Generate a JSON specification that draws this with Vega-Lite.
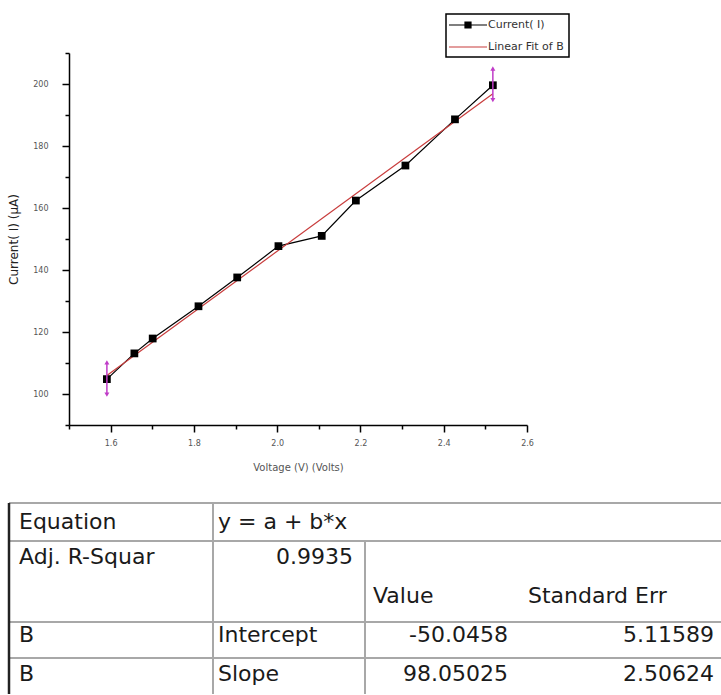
{
  "$schema": "https://vega.github.io/schema/vega-lite/v6.json",
  "background": "white",
  "padding": {"left": 7, "top": 13, "right": 0, "bottom": 0},
  "spacing": 29,
  "config": {"view": {"stroke": null}, "font": "DejaVu Sans"},
  "resolve": {"legend": {"color": "independent"}},
  "datasets": {
    "current": [
      {"V": 1.591, "I": 104.8, "series": "Current( I)"},
      {"V": 1.657, "I": 113.1, "series": "Current( I)"},
      {"V": 1.701, "I": 117.9, "series": "Current( I)"},
      {"V": 1.811, "I": 128.3, "series": "Current( I)"},
      {"V": 1.904, "I": 137.6, "series": "Current( I)"},
      {"V": 2.003, "I": 147.7, "series": "Current( I)"},
      {"V": 2.107, "I": 151.0, "series": "Current( I)"},
      {"V": 2.189, "I": 162.4, "series": "Current( I)"},
      {"V": 2.308, "I": 173.7, "series": "Current( I)"},
      {"V": 2.427, "I": 188.6, "series": "Current( I)"},
      {"V": 2.518, "I": 199.6, "series": "Current( I)"}
    ],
    "fit": [
      {"V": 1.591, "I": 105.95, "series": "Linear Fit of B"},
      {"V": 2.518, "I": 196.85, "series": "Linear Fit of B"}
    ],
    "err": [
      {"V": 1.591, "lo": 99.8, "hi": 110.2},
      {"V": 2.518, "lo": 194.8, "hi": 205.0}
    ],
    "tlines": [
      {"x1": 1, "x2": 5, "y1": 0, "y2": 0},
      {"x1": 1, "x2": 5, "y1": 1, "y2": 1},
      {"x1": 1, "x2": 5, "y1": 3, "y2": 3},
      {"x1": 1, "x2": 5, "y1": 4, "y2": 4},
      {"x1": 2, "x2": 2, "y1": 0, "y2": 5},
      {"x1": 3, "x2": 3, "y1": 1, "y2": 5},
      {"x1": 1, "x2": 1, "y1": 0, "y2": 5}
    ],
    "cells": [
      {"row": 1, "col": 1, "t": "Equation"},
      {"row": 1, "col": 2, "t": "y = a + b*x"},
      {"row": 2, "col": 1, "t": "Adj. R-Squar"},
      {"row": 2, "col": 2, "t": "0.9935"},
      {"row": 3, "col": 3, "t": "Value"},
      {"row": 3, "col": 4, "t": "Standard Err"},
      {"row": 4, "col": 1, "t": "B"},
      {"row": 4, "col": 2, "t": "Intercept"},
      {"row": 4, "col": 3, "t": "-50.0458"},
      {"row": 4, "col": 4, "t": "5.11589"},
      {"row": 5, "col": 1, "t": "B"},
      {"row": 5, "col": 2, "t": "Slope"},
      {"row": 5, "col": 3, "t": "98.05025"},
      {"row": 5, "col": 4, "t": "2.50624"}
    ]
  },
  "vconcat": [
    {
      "width": 458,
      "height": 372,
      "layer": [
        {
          "data": {"name": "current"},
          "mark": {"type": "line", "strokeWidth": 1.2},
          "encoding": {
            "x": {
              "field": "V", "type": "quantitative",
              "scale": {"domain": [1.5, 2.6], "nice": false, "zero": false},
              "axis": {
                "title": "Voltage (V) (Volts)",
                "values": [1.5, 1.6, 1.7, 1.8, 1.9, 2.0, 2.1, 2.2, 2.3, 2.4, 2.5, 2.6],
                "tickCount": 20,
                "labelExpr": "round(datum.value*10) % 2 == 0 ? format(datum.value, '.1f') : ''",
                "tickSize": {"condition": {"test": "round(datum.value*10) % 2 == 0", "value": 7}, "value": 4},
                "labelOverlap": false,
                "grid": false,
                "domainColor": "black", "domainWidth": 1.5,
                "tickColor": "black", "tickWidth": 1.5,
                "labelFontSize": 8, "labelColor": "#555", "labelPadding": 7, "labelFlush": false,
                "titleFontSize": 10, "titleFontWeight": "normal", "titleColor": "#555", "titlePadding": 15
              }
            },
            "y": {
              "field": "I", "type": "quantitative",
              "scale": {"domain": [90, 210], "nice": false, "zero": false},
              "axis": {
                "title": "Current( I) (µA)",
                "values": [90, 100, 110, 120, 130, 140, 150, 160, 170, 180, 190, 200, 210],
                "tickCount": 20,
                "labelExpr": "round(datum.value/10) % 2 == 0 ? format(datum.value, 'd') : ''",
                "tickSize": {"condition": {"test": "round(datum.value/10) % 2 == 0", "value": 7}, "value": 4},
                "labelOverlap": false,
                "grid": false,
                "domainColor": "black", "domainWidth": 1.5,
                "tickColor": "black", "tickWidth": 1.5,
                "labelFontSize": 8, "labelColor": "#555", "labelPadding": 14, "labelFlush": false,
                "titleFontSize": 12, "titleFontWeight": "normal", "titleColor": "#222", "titlePadding": 12
              }
            },
            "color": {
              "field": "series", "type": "nominal",
              "scale": {"domain": ["Current( I)", "Linear Fit of B"], "range": ["#000000", "#c83c3c"]},
              "legend": {
                "title": null,
                "orient": "none",
                "legendX": 377,
                "legendY": -39,
                "strokeColor": "black",
                "padding": 5,
                "rowPadding": 10,
                "symbolType": "M-3.8,0H3.8",
                "symbolSize": 100,
                "symbolStrokeWidth": 1.2,
                "symbolOffset": 11,
                "labelOffset": 14,
                "labelFont": "DejaVu Sans",
                "labelFontSize": 11,
                "labelColor": "#333",
                "encode": {
                  "symbols": {
                    "update": {
                      "shape": [
                        {"test": "datum.value === 'Current( I)'", "value": "M-3.8,0H3.8M-0.6,-0.6H0.6V0.6H-0.6Z"},
                        {"value": "M-3.8,0H3.8"}
                      ],
                      "fill": [
                        {"test": "datum.value === 'Current( I)'", "value": "black"},
                        {"value": "transparent"}
                      ],
                      "fillOpacity": {"value": 1},
                      "opacity": {"value": 1}
                    }
                  },
                  "legend": {"update": {"strokeWidth": {"value": 1.5}}}
                }
              }
            }
          }
        },
        {
          "data": {"name": "fit"},
          "mark": {"type": "line", "strokeWidth": 1.2},
          "encoding": {
            "x": {"field": "V", "type": "quantitative"},
            "y": {"field": "I", "type": "quantitative"},
            "color": {"field": "series", "type": "nominal"}
          }
        },
        {
          "data": {"name": "current"},
          "mark": {"type": "point", "shape": "square", "filled": true, "size": 60, "color": "black", "opacity": 1},
          "encoding": {
            "x": {"field": "V", "type": "quantitative"},
            "y": {"field": "I", "type": "quantitative"}
          }
        },
        {
          "data": {"name": "err"},
          "mark": {"type": "rule", "color": "#c03cc8", "strokeWidth": 1.5},
          "encoding": {
            "x": {"field": "V", "type": "quantitative"},
            "y": {"field": "lo", "type": "quantitative"},
            "y2": {"field": "hi"}
          }
        },
        {
          "data": {"name": "err"},
          "mark": {"type": "point", "shape": "triangle-up", "filled": true, "size": 25, "color": "#c03cc8", "opacity": 1},
          "encoding": {
            "x": {"field": "V", "type": "quantitative"},
            "y": {"field": "hi", "type": "quantitative"}
          }
        },
        {
          "data": {"name": "err"},
          "mark": {"type": "point", "shape": "triangle-down", "filled": true, "size": 25, "color": "#c03cc8", "opacity": 1},
          "encoding": {
            "x": {"field": "V", "type": "quantitative"},
            "y": {"field": "lo", "type": "quantitative"}
          }
        }
      ]
    },
    {
      "width": 653,
      "height": 191,
      "resolve": {"scale": {"x": "independent", "y": "independent"}},
      "layer": [
        {
          "data": {"name": "tlines"},
          "transform": [{"filter": "!(datum.x1 == 1 && datum.x2 == 1)"}],
          "mark": {"type": "rule", "color": "#a8a8a8", "strokeWidth": 2},
          "encoding": {
            "x": {"field": "x1", "type": "quantitative", "axis": null,
                  "scale": {"domain": [1, 2, 3, 4, 5], "range": [-60, 144, 296, 452, 658], "nice": false, "zero": false}},
            "x2": {"field": "x2"},
            "y": {"field": "y1", "type": "quantitative", "axis": null,
                  "scale": {"domain": [0, 1, 2, 3, 4, 5], "range": [0, 38, 78, 119, 155, 191], "nice": false, "zero": false}},
            "y2": {"field": "y2"}
          }
        },
        {
          "data": {"name": "tlines"},
          "transform": [{"filter": "datum.x1 == 1 && datum.x2 == 1"}],
          "mark": {"type": "rule", "color": "#222222", "strokeWidth": 2.5},
          "encoding": {
            "x": {"field": "x1", "type": "quantitative", "axis": null,
                  "scale": {"domain": [1, 2, 3, 4, 5], "range": [-60, 144, 296, 452, 658], "nice": false, "zero": false}},
            "x2": {"field": "x2"},
            "y": {"field": "y1", "type": "quantitative", "axis": null,
                  "scale": {"domain": [0, 1, 2, 3, 4, 5], "range": [0, 38, 78, 119, 155, 191], "nice": false, "zero": false}},
            "y2": {"field": "y2"}
          }
        },
        {
          "data": {"name": "cells"},
          "transform": [{"filter": "!isFinite(toNumber(datum.t))"}],
          "mark": {"type": "text", "align": "left", "baseline": "middle", "font": "DejaVu Sans", "fontSize": 22, "color": "#1a1a1a"},
          "encoding": {
            "x": {"field": "col", "type": "quantitative", "axis": null,
                  "scale": {"domain": [1, 2, 3, 4], "range": [-50, 149, 304, 459], "nice": false, "zero": false}},
            "y": {"field": "row", "type": "quantitative", "axis": null,
                  "scale": {"domain": [1, 2, 3, 4, 5], "range": [19, 54, 93, 132, 171], "nice": false, "zero": false}},
            "text": {"field": "t"}
          }
        },
        {
          "data": {"name": "cells"},
          "transform": [{"filter": "isFinite(toNumber(datum.t))"}],
          "mark": {"type": "text", "align": "right", "baseline": "middle", "font": "DejaVu Sans", "fontSize": 22, "color": "#1a1a1a"},
          "encoding": {
            "x": {"field": "col", "type": "quantitative", "axis": null,
                  "scale": {"domain": [2, 3, 4], "range": [284, 439, 645], "nice": false, "zero": false}},
            "y": {"field": "row", "type": "quantitative", "axis": null,
                  "scale": {"domain": [1, 2, 3, 4, 5], "range": [19, 54, 93, 132, 171], "nice": false, "zero": false}},
            "text": {"field": "t"}
          }
        }
      ]
    }
  ]
}
